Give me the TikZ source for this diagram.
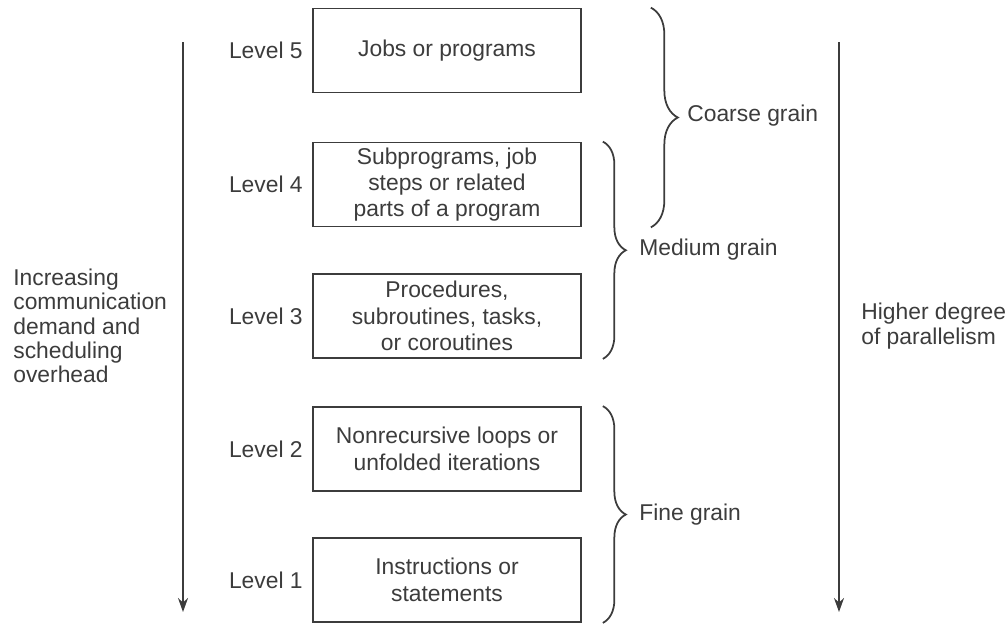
\documentclass[tikz,border=0pt]{standalone}
\usepackage{fontspec}
\setmainfont{Liberation Sans}
\usetikzlibrary{arrows.meta, decorations.pathreplacing}
\definecolor{ink}{RGB}{60,60,60}
\tikzset{lv/.style = {rectangle, draw=ink, line width=1pt, minimum width=5.36cm, minimum height=1.68cm, inner sep=0pt, align=center, text=ink, font=\fontsize{13}{15}\selectfont},
         lb/.style = {anchor=east, inner sep=0pt, text=ink},
         tx/.style = {anchor=west, inner sep=0pt, align=left, text=ink, font=\fontsize{13}{13.8}\selectfont},
         br/.style = {draw=ink, line width=1pt, decorate, decoration={brace, amplitude=#1}}}

\begin{document}
\begin{tikzpicture}[x=0.02cm, y=-0.02cm, >={Stealth[length=0.28cm, width=0.2cm]}, font=\fontsize{13}{14}\selectfont]
    \useasboundingbox (0,0) rectangle (1008,623);
    \node[lv] (l5) at (447,50.5)  {Jobs or programs};
    \node[lv] (l4) at (447,184.5) {Subprograms, job\\steps or related\\parts of a program};
    \node[lv] (l3) at (447,316)   {Procedures,\\subroutines, tasks,\\or coroutines};
    \node[lv] (l2) at (447,449)   {Nonrecursive loops or\\unfolded iterations};
    \node[lv] (l1) at (447,580)   {Instructions or\\statements};
    \node[lb] (n5) at (303,50.5)  {Level 5};
    \node[lb] (n4) at (303,184.5) {Level 4};
    \node[lb] (n3) at (303,316)   {Level 3};
    \node[lb] (n2) at (303,449)   {Level 2};
    \node[lb] (n1) at (303,580)   {Level 1};
    \draw[br=0.54cm] ([xshift=1.38cm]l5.north east) -- ([xshift=1.38cm]l4.south east);
    \draw[br=0.46cm] ([xshift=0.42cm]l4.north east) -- ([xshift=0.42cm]l3.south east);
    \draw[br=0.46cm] ([xshift=0.42cm]l2.north east) -- ([xshift=0.42cm]l1.south east);
    \node[tx] (cg) at (687,116) {Coarse grain};
    \node[tx] (mg) at (639,250) {Medium grain};
    \node[tx] (fg) at (639,515) {Fine grain};
    \coordinate (lt) at (183,42);  \coordinate (lb) at (183,612);
    \coordinate (rt) at (839,42);  \coordinate (rb) at (839,612);
    \draw[->, draw=ink, line width=1pt] (lt) -- (lb);
    \draw[->, draw=ink, line width=1pt] (rt) -- (rb);
    \node[tx] (comm) at (13,326) {Increasing\\communication\\demand and\\scheduling\\overhead};
    \node[tx, font=\fontsize{13}{14.5}\selectfont] (par) at (861,326) {Higher degree\\of parallelism};
\end{tikzpicture}
\end{document}
